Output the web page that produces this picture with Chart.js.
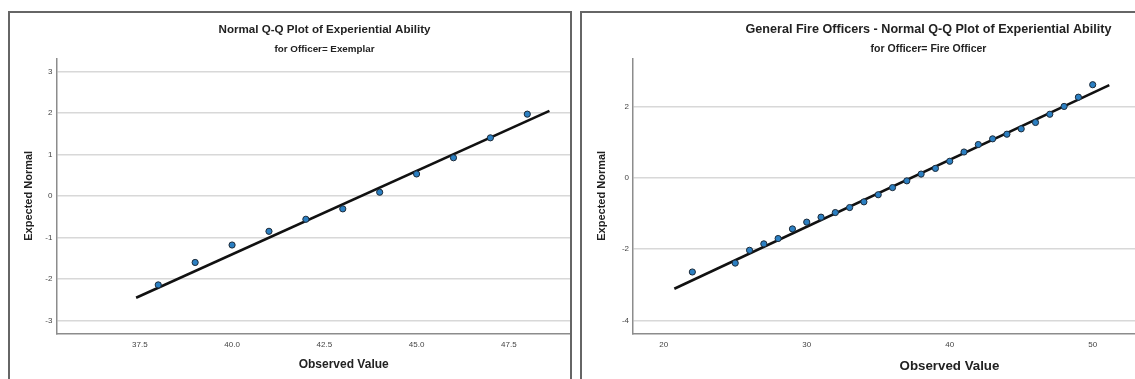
<!DOCTYPE html>
<html>
<head>
<meta charset="utf-8">
<script src="https://cdn.jsdelivr.net/npm/chart.js@4.4.0/dist/chart.umd.min.js"></script>
<style>
    html, body { margin: 0; padding: 0; background: #fff; overflow: hidden; }
    body { width: 1135px; height: 379px; position: relative; }
    .frame { position: absolute; border: 2px solid #666; box-sizing: border-box; }
    .clip { position: absolute; overflow: hidden; }
    .clip canvas { position: absolute; left: 0; top: 0; }
</style>
</head>
<body>
<div class="frame" style="left:8px; top:11px; width:564px; height:400px;"></div>
<div class="frame" style="left:580px; top:11px; width:600px; height:400px;"></div>
<div class="clip" style="left:10px; top:13px; width:560px; height:366px;">
    <canvas id="leftChart" width="628" height="366"></canvas>
</div>
<div class="clip" style="left:583px; top:13px; width:552px; height:366px;">
    <canvas id="rightChart" width="688" height="366"></canvas>
</div>
<script>
// Exemplar officers
const leftObserved = [38, 39, 40, 41, 42, 43, 44, 45, 46, 47, 48];
const leftExpected = [-2.14, -1.60, -1.18, -0.85, -0.56, -0.31, 0.09, 0.53, 0.92, 1.40, 1.97];
const leftLineX = [37.4, 48.6];
const leftLineY = [-2.45, 2.05];
const leftXTicks = [37.5, 40.0, 42.5, 45.0, 47.5];
const leftYTicks = [-3, -2, -1, 0, 1, 2, 3];

// General fire officers
const rightObserved = [22, 25, 26, 27, 28, 29, 30, 31, 32, 33, 34, 35, 36, 37, 38,
    39, 40, 41, 42, 43, 44, 45, 46, 47, 48, 49, 50];
const rightExpected = [-2.64, -2.39, -2.03, -1.85, -1.70, -1.43, -1.24, -1.10, -0.97, -0.83,
    -0.67, -0.47, -0.27, -0.08, 0.11, 0.27, 0.47, 0.73, 0.94, 1.10, 1.23, 1.38, 1.56,
    1.79, 2.01, 2.27, 2.62];
const rightLineX = [20.74, 51.16];
const rightLineY = [-3.11, 2.61];
const rightXTicks = [20, 30, 40, 50, 60];
const rightYTicks = [-4, -2, 0, 2];

const FONT = "'Liberation Sans', Arial, sans-serif";

function toPoints(xs, ys) {
    return xs.map((x, i) => ({ x: x, y: ys[i] }));
}

// title block is 26.2px tall, subtitle block 19.1px, text centred at 17 / 36.3
function titlePadding(size) {
    const lh = size * 1.2;
    const top = 17 - lh / 2;
    return { top: top, bottom: 26.2 - top - lh };
}
function subtitlePadding(size) {
    const lh = size * 1.2;
    const top = 36.3 - 26.2 - lh / 2;
    return { top: top, bottom: 19.1 - top - lh };
}

function makeQQChart(canvasId, opts) {
    const ctx = document.getElementById(canvasId);
    return new Chart(ctx, {
        type: 'scatter',
        data: {
            datasets: [
                {
                    label: 'Observed',
                    data: toPoints(opts.observed, opts.expected),
                    pointRadius: 3.1,
                    pointBackgroundColor: '#2b7fc2',
                    pointBorderColor: '#1c2a38',
                    pointBorderWidth: 1
                },
                {
                    label: 'Normal line',
                    data: toPoints(opts.lineX, opts.lineY),
                    showLine: true,
                    pointRadius: 0,
                    borderColor: '#111',
                    borderWidth: 2.6
                }
            ]
        },
        options: {
            responsive: false,
            animation: false,
            devicePixelRatio: 1,
            layout: { padding: { left: 8, right: opts.padRight, top: 0, bottom: 0 } },
            plugins: {
                legend: { display: false },
                tooltip: { enabled: false },
                title: {
                    display: true,
                    text: opts.title,
                    color: '#222',
                    font: { family: FONT, size: opts.titleSize, weight: 'bold' },
                    padding: titlePadding(opts.titleSize)
                },
                subtitle: {
                    display: true,
                    text: opts.subtitle,
                    color: '#222',
                    font: { family: FONT, size: opts.subtitleSize, weight: 'bold' },
                    padding: subtitlePadding(opts.subtitleSize)
                }
            },
            scales: {
                x: {
                    type: 'linear',
                    min: opts.xMin,
                    max: opts.xMax,
                    afterBuildTicks: s => { s.ticks = opts.xTicks.map(v => ({ value: v })); },
                    afterFit: s => { s.height = 45.7; },
                    grid: { display: false, drawTicks: false },
                    border: { display: true, color: '#8c8c8c', width: 1.5 },
                    ticks: {
                        padding: 7,
                        color: '#444',
                        font: { family: FONT, size: 8 },
                        maxRotation: 0,
                        callback: v => opts.xDecimals ? v.toFixed(opts.xDecimals) : String(v)
                    },
                    title: {
                        display: true,
                        text: 'Observed Value',
                        color: '#222',
                        font: { family: FONT, size: opts.xTitleSize, weight: 'bold' },
                        padding: { top: 0, bottom: opts.xTitlePad }
                    }
                },
                y: {
                    type: 'linear',
                    min: opts.yMin,
                    max: opts.yMax,
                    afterBuildTicks: s => { s.ticks = opts.yTicks.map(v => ({ value: v })); },
                    afterFit: s => { s.width = opts.yWidth; },
                    grid: { color: '#d8d8d8', lineWidth: 1.6, drawTicks: false },
                    border: { display: true, color: '#8c8c8c', width: 1.5 },
                    ticks: {
                        padding: 4,
                        color: '#444',
                        font: { family: FONT, size: 8 },
                        callback: v => String(v)
                    },
                    title: {
                        display: true,
                        text: 'Expected Normal',
                        color: '#222',
                        font: { family: FONT, size: 11, weight: 'bold' },
                        padding: { top: 4.6, bottom: 0 }
                    }
                }
            }
        }
    });
}

makeQQChart('leftChart', {
    title: 'Normal Q-Q Plot of Experiential Ability',
    subtitle: 'for Officer= Exemplar',
    titleSize: 11.6,
    subtitleSize: 9.8,
    xTitleSize: 12,
    xTitlePad: 6.8,
    observed: leftObserved,
    expected: leftExpected,
    lineX: leftLineX,
    lineY: leftLineY,
    xTicks: leftXTicks,
    yTicks: leftYTicks,
    xDecimals: 1,
    xMin: 35.24,
    xMax: 50.81,
    yMin: -3.305,
    yMax: 3.314,
    yWidth: 38.4,
    padRight: 7
});

makeQQChart('rightChart', {
    title: 'General Fire Officers - Normal Q-Q Plot of Experiential Ability',
    subtitle: 'for Officer= Fire Officer',
    titleSize: 12.6,
    subtitleSize: 10.5,
    xTitleSize: 13.3,
    xTitlePad: 4.3,
    observed: rightObserved,
    expected: rightExpected,
    lineX: rightLineX,
    lineY: rightLineY,
    xTicks: rightXTicks,
    yTicks: rightYTicks,
    xDecimals: 0,
    xMin: 17.85,
    xMax: 62.12,
    yMin: -4.362,
    yMax: 3.362,
    yWidth: 42,
    padRight: 5
});
</script>
</body>
</html>
